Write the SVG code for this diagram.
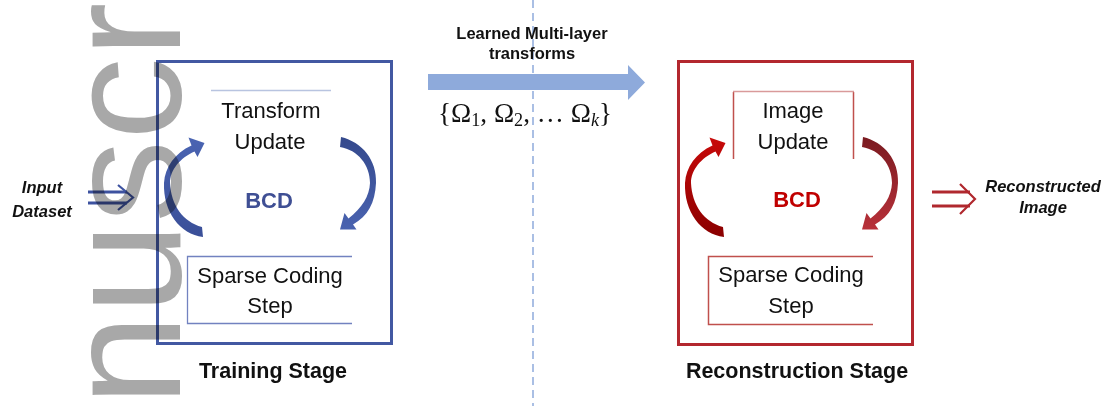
<svg xmlns="http://www.w3.org/2000/svg" width="1106" height="406" viewBox="0 0 1106 406">
<style>
.t{font-family:"Liberation Sans",Arial,sans-serif;font-size:22px;fill:#111;text-anchor:middle}
.b{font-family:"Liberation Sans",Arial,sans-serif;font-weight:bold;text-anchor:middle}
.bi{font-family:"Liberation Sans",Arial,sans-serif;font-weight:bold;font-style:italic;font-size:16.5px;fill:#111;text-anchor:middle}
.blueLine{fill:none;stroke:#7282c0;stroke-width:1.3}
.redLine{fill:none;stroke:#c0504d;stroke-width:1.5}
</style>
<defs>
<linearGradient id="gBL" x1="0" y1="0" x2="0" y2="1"><stop offset="0" stop-color="#4a64b2"/><stop offset="1" stop-color="#3a4f98"/></linearGradient>
<linearGradient id="gBR" x1="0" y1="0" x2="0" y2="1"><stop offset="0" stop-color="#34498c"/><stop offset="1" stop-color="#4a63b0"/></linearGradient>
<linearGradient id="gRL" x1="0" y1="0" x2="0" y2="1"><stop offset="0" stop-color="#c80a0a"/><stop offset="1" stop-color="#8a0000"/></linearGradient>
<linearGradient id="gRR" x1="0" y1="0" x2="0" y2="1"><stop offset="0" stop-color="#7a1a20"/><stop offset="1" stop-color="#b8313a"/></linearGradient>
<path id="arcL" d="M203 237C180 234 163 212 164 183C165 167 175 153 191.5 145.5L188.5 137.5L204.5 143L197.5 157L194.5 151.5C180 158 170 170 170 183C171 205 183 222 202 227Z"/>
<path id="arcR" d="M341 137C362 142 377 160 376 183C375 203 368 216 353 224.5L356.5 229.5L340 229.5L344.5 213L348.5 218.5C362 208 369.5 196 370 183C370 165 358 150 340 147Z"/>
</defs>
<rect width="1106" height="406" fill="#fff"/>

<line id="divider" x1="533" y1="0" x2="533" y2="406" stroke="#8eaadb" stroke-width="1.5" stroke-dasharray="8 5"/>

<g id="training-stage">
<rect x="157.5" y="61.5" width="234" height="282" fill="none" stroke="#4258a2" stroke-width="3"/>
<text class="b" x="273" y="378" font-size="21.5" fill="#111">Training Stage</text>
</g>
<g id="transform-update">
<line x1="211" y1="90.5" x2="331" y2="90.5" stroke="#b8c4e0" stroke-width="1.3"/>
<text class="t" x="271" y="118">Transform</text>
<text class="t" x="270" y="149">Update</text>
</g>
<g id="bcd-left"><text class="b" x="269" y="208" font-size="22" fill="#3f4f94">BCD</text></g>
<g id="sparse-coding-left">
<path class="blueLine" d="M352 256.5H187.5V323.5H352"/>
<text class="t" x="270" y="283">Sparse Coding</text>
<text class="t" x="270" y="313">Step</text>
</g>

<g id="reconstruction-stage">
<rect x="678.5" y="61.5" width="234" height="283" fill="none" stroke="#b3282f" stroke-width="3"/>
<text class="b" x="797" y="378" font-size="21.5" fill="#111">Reconstruction Stage</text>
</g>
<g id="image-update">
<path class="redLine" d="M733.5 159V92M853.5 92V159"/>
<line x1="733" y1="91.5" x2="854" y2="91.5" stroke="#d99a9a" stroke-width="1.3"/>
<text class="t" x="793" y="118">Image</text>
<text class="t" x="793" y="149">Update</text>
</g>
<g id="bcd-right"><text class="b" x="797" y="207" font-size="22" fill="#c00000">BCD</text></g>
<g id="sparse-coding-right">
<path class="redLine" d="M873 256.5H708.5V324.5H873"/>
<text class="t" x="791" y="282">Sparse Coding</text>
<text class="t" x="791" y="313">Step</text>
</g>

<g id="input-dataset">
<text class="bi" x="42" y="193">Input</text>
<text class="bi" x="42" y="217">Dataset</text>
</g>
<g id="reconstructed-image">
<text class="bi" x="1043" y="192">Reconstructed</text>
<text class="bi" x="1043" y="213">Image</text>
</g>
<g id="learned-transforms">
<text class="b" x="532" y="39" font-size="16.5" fill="#111">Learned Multi-layer</text>
<text class="b" x="532" y="59" font-size="16.5" fill="#111">transforms</text>
<text x="525" y="122" font-family="'Liberation Serif','DejaVu Serif',serif" font-size="27" fill="#111" text-anchor="middle" textLength="174" lengthAdjust="spacingAndGlyphs">{Ω<tspan font-size="18" dy="4">1</tspan><tspan dy="-4">, Ω</tspan><tspan font-size="18" dy="4">2</tspan><tspan dy="-4">, … Ω</tspan><tspan font-size="18" font-style="italic" dy="4">k</tspan><tspan dy="-4">}</tspan></text>
</g>

<g id="connectors">
<path d="M428 74H628V65L645 82.5L628 100V90H428Z" fill="#8eaadb"/>
<g fill="none" stroke="#3d52a0" stroke-width="2.8">
<path d="M88 192H127M88 203H127"/>
<path d="M118 185L133 197.5L118 210" stroke-width="2.2"/>
</g>
<g fill="none" stroke="#b0282e" stroke-width="2.8">
<path d="M932 192H970M932 206H970"/>
<path d="M960 184L975 199L960 214" stroke-width="2.2"/>
</g>
<use href="#arcL" fill="url(#gBL)"/>
<use href="#arcR" fill="url(#gBR)"/>
<use href="#arcL" fill="url(#gRL)" transform="translate(521,0)"/>
<use href="#arcR" fill="url(#gRR)" transform="translate(522,0)"/>
</g>

<g id="watermark" style="mix-blend-mode:multiply">
<text transform="translate(180,406) rotate(-90)" font-family="'Liberation Sans',Arial,sans-serif" font-size="165" fill="#a8a8a8">nuscr</text>
</g>
</svg>
